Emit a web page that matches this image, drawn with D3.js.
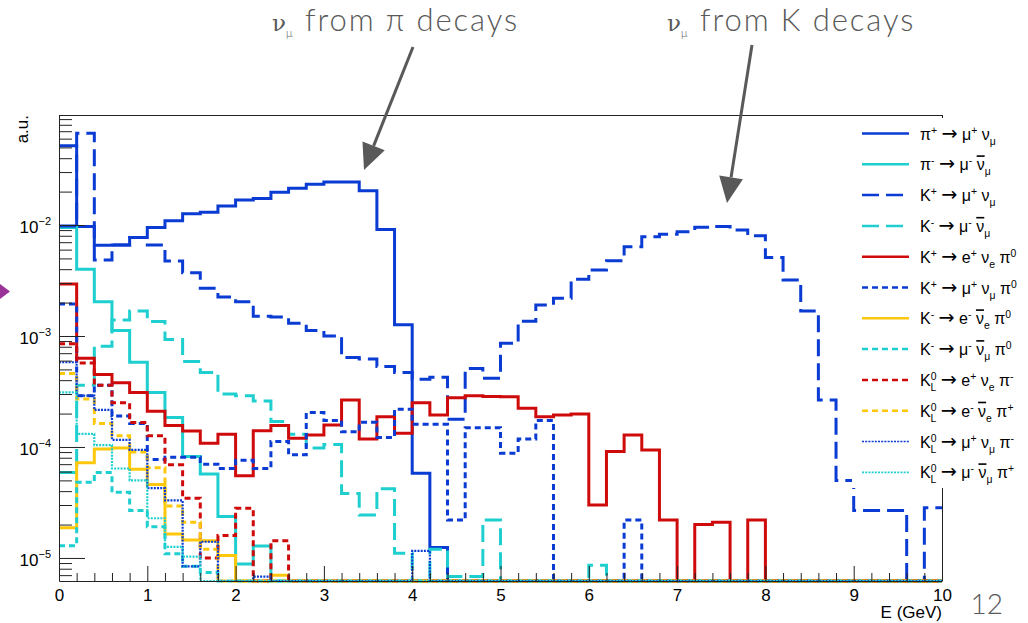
<!DOCTYPE html>
<html>
<head>
<meta charset="utf-8">
<script src="https://cdn.jsdelivr.net/npm/d3@7"></script>
<style>
  body { margin: 0; background: #fff; }
  svg { display: block; font-family: "Liberation Sans", Arial, sans-serif; }
  .axis text { font-family: "Liberation Sans", Arial, sans-serif; font-size: 17px; fill: #000; }
  .axis path, .axis line { stroke: #222; stroke-width: 1; }
  .legend text { font-family: "Liberation Sans", Arial, sans-serif; fill: #000; }
  .annot { font-family: Lato, "Open Sans", sans-serif; font-weight: 300; fill: #595959; }
</style>
</head>
<body>
<div id="chart"></div>
<script>
/* ---------- data: 50 bins of 0.2 GeV, 0 - 10 GeV ---------- */
const BIN_WIDTH = 0.2;

const piPlusMu = [0.0518, 0.0097, 0.00656, 0.0066, 0.0077, 0.0095, 0.0109, 0.0126, 0.013, 0.0148,
  0.0168, 0.0173, 0.0197, 0.0214, 0.0233, 0.0244, 0.0244, 0.0204, 0.0091, 0.00126,
  5.8e-5, 1.24e-5, 0, 0, 0, 0, 0, 0, 0, 0, 0, 0, 0, 0, 0, 0, 0, 0, 0, 0, 0, 0, 0, 0, 0, 0, 0, 0, 0, 0];

const piMinusMu = [0.0095, 0.0040, 0.00204, 0.00112, 5.8e-4, 3.1e-4, 1.84e-4, 8.2e-5, 5.7e-5, 2.36e-5,
  8.8e-6, 1.28e-5, 0, 0, 0, 0, 0, 0, 0, 0, 0, 0, 0, 0, 0, 0, 0, 0, 0, 0, 0, 0, 0, 0, 0, 0, 0, 0, 0, 0,
  0, 0, 0, 0, 0, 0, 0, 0, 0, 0];

const kPlusMu = [0.0098, 0.067, 0.00484, 0.0066, 0.0077, 0.0066, 0.00474, 0.00371, 0.00269, 0.00225,
  0.00204, 0.00151, 0.00148, 0.0013, 0.00112, 0.0010, 6.4e-4, 6.2e-4, 5.3e-4, 4.7e-4,
  4.07e-4, 4.25e-4, 1.78e-4, 5.1e-4, 4.16e-4, 8.6e-4, 0.00136, 0.0019, 0.00219, 0.00324,
  0.00394, 0.00477, 0.00638, 0.00785, 0.00824, 0.0087, 0.00953, 0.0097, 0.0090, 0.0080,
  0.0051, 0.0032, 0.00168, 2.65e-4, 5.0e-5, 2.67e-5, 2.67e-5, 2.67e-5, 0, 2.84e-5];

const kMinusMu = [5.9e-5, 3.6e-4, 8.1e-4, 0.00139, 0.00168, 0.00135, 9.3e-4, 5.9e-4, 4.7e-4, 3.0e-4,
  2.9e-4, 2.6e-4, 1.7e-4, 1.3e-4, 9.8e-5, 1.05e-4, 3.8e-5, 2.44e-5, 4.2e-5, 1.1e-5,
  0, 1.2e-5, 6.8e-6, 6.8e-6, 2.2e-5, 0, 0, 0, 0, 0, 8.6e-6, 0, 0, 0, 0, 0, 0, 0, 0, 0,
  0, 0, 0, 0, 0, 0, 0, 0, 0, 0];

const kPlusE3 = [0.00294, 6.3e-4, 4.5e-4, 3.8e-4, 3.1e-4, 2.1e-4, 1.56e-4, 1.39e-4, 1.08e-4, 1.3e-4,
  5.5e-5, 1.4e-4, 1.56e-4, 1.2e-4, 1.28e-4, 1.58e-4, 2.65e-4, 1.18e-4, 1.87e-4, 1.33e-4,
  2.5e-4, 1.94e-4, 2.78e-4, 2.9e-4, 2.85e-4, 2.84e-4, 2.23e-4, 1.87e-4, 1.94e-4, 1.98e-4,
  3.0e-5, 9.1e-5, 1.28e-4, 9.4e-5, 2.2e-5, 0, 2.0e-5, 2.1e-5, 0, 2.2e-5,
  0, 0, 0, 0, 0, 0, 0, 0, 0, 0];

const kPlusMu3 = [0.00194, 2.9e-4, 3.6e-4, 1.9e-4, 1.63e-4, 7.7e-5, 8.1e-5, 8.1e-5, 7.0e-5, 6.4e-5,
  7.6e-5, 6.4e-5, 1.12e-4, 8.5e-5, 2.04e-4, 1.73e-4, 1.37e-4, 1.67e-4, 1.22e-4, 2.19e-4,
  1.6e-4, 1.6e-4, 2.2e-5, 1.49e-4, 1.49e-4, 8.8e-5, 1.18e-4, 1.73e-4, 0, 0,
  0, 0, 2.2e-5, 0, 0, 0, 0, 0, 0, 0, 0, 0, 0, 0, 0, 0, 0, 0, 0, 0];

const kMinusE3 = [1.87e-5, 7.2e-5, 9.6e-5, 9.8e-5, 6.3e-5, 4.6e-5, 1.64e-5, 1.45e-5, 1.43e-5, 1.05e-5,
  0, 0, 7.0e-6, 0, 0, 0, 0, 0, 0, 0, 0, 0, 0, 0, 0, 0, 0, 0, 0, 0,
  0, 0, 0, 0, 0, 0, 0, 0, 0, 0, 0, 0, 0, 0, 0, 0, 0, 0, 0, 0];

const kMinusMu3 = [1.29e-5, 4.8e-5, 5.9e-5, 3.9e-5, 2.67e-5, 1.91e-5, 1.09e-5, 8.4e-6, 7.4e-6, 0,
  0, 0, 0, 0, 0, 0, 0, 0, 0, 0, 0, 0, 0, 0, 0, 0, 0, 0, 0, 0,
  0, 0, 0, 0, 0, 0, 0, 0, 0, 0, 0, 0, 0, 0, 0, 0, 0, 0, 0, 0];

const kLongEPlus = [8.5e-4, 5.7e-4, 3.6e-4, 2.5e-4, 1.66e-4, 1.26e-4, 6.9e-5, 3.45e-5, 1.0e-5, 1.59e-5,
  2.8e-5, 0, 1.43e-5, 0, 0, 0, 0, 0, 0, 0, 0, 0, 0, 0, 0, 0, 0, 0, 0, 0,
  0, 0, 0, 0, 0, 0, 0, 0, 0, 0, 0, 0, 0, 0, 0, 0, 0, 0, 0, 0];

const kLongEMinus = [4.6e-4, 2.7e-4, 1.63e-4, 1.26e-4, 9.0e-5, 6.5e-5, 2.94e-5, 2.1e-5, 1.2e-5, 0,
  0, 0, 0, 0, 0, 0, 0, 0, 0, 0, 0, 0, 0, 0, 0, 0, 0, 0, 0, 0,
  0, 0, 0, 0, 0, 0, 0, 0, 0, 0, 0, 0, 0, 0, 0, 0, 0, 0, 0, 0];

const kLongMuPlus = [5.8e-4, 2.9e-4, 2.16e-4, 1.16e-4, 9.4e-5, 4.25e-5, 3.3e-5, 8.4e-6, 1.4e-5, 0,
  0, 6.8e-6, 0, 0, 0, 0, 0, 0, 0, 0, 1.16e-5, 0, 0, 0, 0, 0, 0, 0, 0, 0,
  0, 0, 0, 0, 0, 0, 0, 0, 0, 0, 0, 0, 0, 0, 0, 0, 0, 0, 0, 0];

const kLongMuMinus = [3.1e-4, 1.31e-4, 1.04e-4, 6.4e-5, 5.0e-5, 2.28e-5, 1.26e-5, 1.03e-5, 0, 0,
  0, 0, 0, 0, 0, 0, 0, 0, 0, 0, 0, 0, 0, 0, 0, 0, 0, 0, 0, 0,
  0, 0, 0, 0, 0, 0, 0, 0, 0, 0, 0, 0, 0, 0, 0, 0, 0, 0, 0, 0];

const seriesLabels = [
  "π^{+} → μ^{+} ν_{μ}",
  "π^{-} → μ^{-} #bar{ν}_{μ}",
  "K^{+} → μ^{+} ν_{μ}",
  "K^{-} → μ^{-} #bar{ν}_{μ}",
  "K^{+} → e^{+} ν_{e} π^{0}",
  "K^{+} → μ^{+} ν_{μ} π^{0}",
  "K^{-} → e^{-} #bar{ν}_{e} π^{0}",
  "K^{-} → μ^{-} #bar{ν}_{μ} π^{0}",
  "K^{0}_{L} → e^{+} ν_{e} π^{-}",
  "K^{0}_{L} → e^{-} #bar{ν}_{e} π^{+}",
  "K^{0}_{L} → μ^{+} ν_{μ} π^{-}",
  "K^{0}_{L} → μ^{-} #bar{ν}_{μ} π^{+}"
];
const seriesValues = [piPlusMu, piMinusMu, kPlusMu, kMinusMu, kPlusE3, kPlusMu3,
  kMinusE3, kMinusMu3, kLongEPlus, kLongEMinus, kLongMuPlus, kLongMuMinus];

const yDecades = [1e-5, 1e-4, 1e-3, 1e-2];
const xTickValues = [0, 1, 2, 3, 4, 5, 6, 7, 8, 9, 10];

/* ---------- styles ---------- */
const BLUE = "#0a3bd2", CYAN = "#1fcfcf", RED = "#cf0a0a", YELLOW = "#fdc80c";
const styles = [
  { color: BLUE,   width: 3,   dash: null },
  { color: CYAN,   width: 3,   dash: null },
  { color: BLUE,   width: 3,   dash: "17,7" },
  { color: CYAN,   width: 3,   dash: "17,7" },
  { color: RED,    width: 3,   dash: null },
  { color: BLUE,   width: 3,   dash: "6,4" },
  { color: YELLOW, width: 3,   dash: null },
  { color: CYAN,   width: 3,   dash: "6,4" },
  { color: RED,    width: 3,   dash: "6,4" },
  { color: YELLOW, width: 3,   dash: "6,4" },
  { color: BLUE,   width: 2.2, dash: "2,1.2" },
  { color: CYAN,   width: 2.2, dash: "2,1.2" }
];

/* ---------- layout ---------- */
const fullW = 1028, fullH = 623;
const frame = { left: 59, right: 942, top: 115, bottom: 581 };
const yMin = 6.2e-6, yMax = 0.098;

const svg = d3.select("#chart").append("svg")
  .attr("width", fullW).attr("height", fullH);

const x = d3.scaleLinear().domain([0, 10]).range([frame.left, frame.right]);
const y = d3.scaleLog().domain([yMin, yMax]).range([frame.bottom, frame.top]).clamp(true);

svg.append("clipPath").attr("id", "plotclip")
  .append("rect")
  .attr("x", frame.left).attr("y", frame.top)
  .attr("width", frame.right - frame.left)
  .attr("height", frame.bottom - frame.top + 2);

// histograms
const line = d3.line()
  .x(d => x(d.e))
  .y(d => y(Math.max(d.v, yMin)))
  .curve(d3.curveStepAfter);

const histG = svg.append("g").attr("clip-path", "url(#plotclip)");
seriesValues.forEach((vals, k) => {
  const pts = vals.map((v, i) => ({ e: i * BIN_WIDTH, v }));
  pts.push({ e: vals.length * BIN_WIDTH, v: vals[vals.length - 1] });
  histG.append("path")
    .attr("d", line(pts))
    .attr("fill", "none")
    .attr("stroke", styles[k].color)
    .attr("stroke-width", styles[k].width)
    .attr("stroke-dasharray", styles[k].dash);
});

// frame lines
svg.append("line").attr("x1", frame.left).attr("x2", frame.right)
  .attr("y1", frame.top + 0.5).attr("y2", frame.top + 0.5).attr("stroke", "#222");
svg.append("line").attr("x1", frame.right + 0.5).attr("x2", frame.right + 0.5)
  .attr("y1", frame.top).attr("y2", frame.bottom).attr("stroke", "#222");

// y axis (ticks inward)
const minorY = [];
for (let p = -6; p <= -2; p++) {
  for (let m = 2; m <= 9; m++) {
    const v = m * Math.pow(10, p);
    if (v >= yMin && v <= yMax) minorY.push(v);
  }
}
svg.append("g").attr("class", "axis")
  .attr("transform", `translate(${frame.left},0)`)
  .call(d3.axisLeft(y).tickValues(minorY).tickSize(-13).tickFormat(""))
  .call(g => g.select(".domain").remove());

const yAxisG = svg.append("g").attr("class", "axis")
  .attr("transform", `translate(${frame.left},0)`)
  .call(d3.axisLeft(y).tickValues(yDecades).tickSize(-26).tickPadding(8).tickSizeOuter(0));
yAxisG.selectAll(".tick text").each(function(d) {
  const t = d3.select(this).text("").attr("dy", "0.45em");
  t.append("tspan").text("10");
  t.append("tspan").attr("dy", -8).attr("font-size", 11).text("−" + Math.round(-Math.log10(d)));
});

// x axis (ticks upward)
const minorX = d3.range(0, 50).map(i => i * BIN_WIDTH).filter(v => Math.abs(v - Math.round(v)) > 1e-6);
svg.append("g").attr("class", "axis")
  .attr("transform", `translate(0,${frame.bottom})`)
  .call(d3.axisBottom(x).tickValues(minorX).tickSize(-8).tickFormat(""))
  .call(g => g.select(".domain").remove());
svg.append("g").attr("class", "axis")
  .attr("transform", `translate(0,${frame.bottom})`)
  .call(d3.axisBottom(x).tickValues(xTickValues).tickSize(-15).tickPadding(7).tickSizeOuter(0))
  .call(g => g.selectAll(".tick text").attr("dy", "0.71em").attr("y", 8));

svg.append("text").attr("text-anchor", "end")
  .attr("x", frame.right).attr("y", 618)
  .style("font-size", "17px").text("E (GeV)");

svg.append("text").attr("text-anchor", "end")
  .attr("transform", `translate(28,${frame.top}) rotate(-90)`)
  .style("font-size", "17px").text("a.u.");

// legend (white box covering frame edge)
const legend = svg.append("g").attr("class", "legend");
legend.append("rect").attr("x", 852).attr("y", 118).attr("width", 176).attr("height", 370).attr("fill", "#fff");

function richText(sel, src, base) {
  const tokens = src.match(/\^\{[^}]*\}|_\{[^}]*\}|#bar\{[^}]*\}|→|[^^_#→]+/g);
  let cur = 0, prevSup = false;
  tokens.forEach(tok => {
    let kind = "n", txt = tok;
    if (tok.startsWith("^{")) { kind = "sup"; txt = tok.slice(2, -1); }
    else if (tok.startsWith("_{")) { kind = "sub"; txt = tok.slice(2, -1); }
    else if (tok.startsWith("#bar{")) { kind = "bar"; txt = tok.slice(5, -1); }
    else if (tok === "→") { kind = "arrow"; }
    const target = kind === "sup" ? -6 : kind === "sub" ? 5 : 0;
    const ts = sel.append("tspan").attr("dy", target - cur).text(txt);
    if (kind === "sup" || kind === "sub") ts.attr("font-size", base * 0.65);
    if (kind === "sub" && prevSup) ts.attr("dx", -base * 0.37);
    if (kind === "bar") ts.style("text-decoration", "overline");
    if (kind === "arrow") ts.style("font-family", "'DejaVu Sans', sans-serif").attr("font-size", base * 1.2);
    cur = target;
    prevSup = kind === "sup";
  });
}

seriesLabels.forEach((lab, k) => {
  const ly = 133.5 + k * 30.8;
  legend.append("line")
    .attr("x1", 862).attr("x2", 909).attr("y1", ly).attr("y2", ly)
    .attr("stroke", styles[k].color)
    .attr("stroke-width", styles[k].width - 0.5)
    .attr("stroke-dasharray", styles[k].dash);
  const t = legend.append("text").attr("x", 920).attr("y", ly + 6)
    .style("font-size", "16px");
  richText(t, lab, 16);
});

// annotations
const annots = [
  { text: "from π decays", nuX: 272, textX: 305, tail: [413, 47], tip: [364, 170] },
  { text: "from K decays", nuX: 667, textX: 700, tail: [752, 45], tip: [727, 203] }
];
annots.forEach(a => {
  const t = svg.append("text").attr("class", "annot").attr("y", 31).style("font-size", "31px");
  t.append("tspan").attr("x", a.nuX).style("font-family", "'DejaVu Serif', serif").style("font-size", "23px").text("ν");
  t.append("tspan").attr("dy", 6).style("font-size", "11px").text("μ");
  t.append("tspan").attr("x", a.textX).attr("dy", -6).style("letter-spacing", "1.9px").text(a.text);

  const dx = a.tip[0] - a.tail[0], dy = a.tip[1] - a.tail[1];
  const len = Math.hypot(dx, dy), ux = dx / len, uy = dy / len;
  const headL = 26, headW = 24;
  const bx = a.tip[0] - ux * headL, by = a.tip[1] - uy * headL;
  svg.append("line")
    .attr("x1", a.tail[0]).attr("y1", a.tail[1]).attr("x2", bx).attr("y2", by)
    .attr("stroke", "#595959").attr("stroke-width", 3);
  svg.append("polygon")
    .attr("points", [[a.tip[0], a.tip[1]],
      [bx - uy * headW / 2, by + ux * headW / 2],
      [bx + uy * headW / 2, by - ux * headW / 2]].map(p => p.join(",")).join(" "))
    .attr("fill", "#595959");
});

// slide decorations
svg.append("polygon").attr("points", "0,284 10,291.5 0,299").attr("fill", "#993399");
svg.append("text").attr("class", "annot").attr("x", 1003).attr("y", 614)
  .attr("text-anchor", "end").style("font-size", "28px").text("12");
</script>
</body>
</html>
